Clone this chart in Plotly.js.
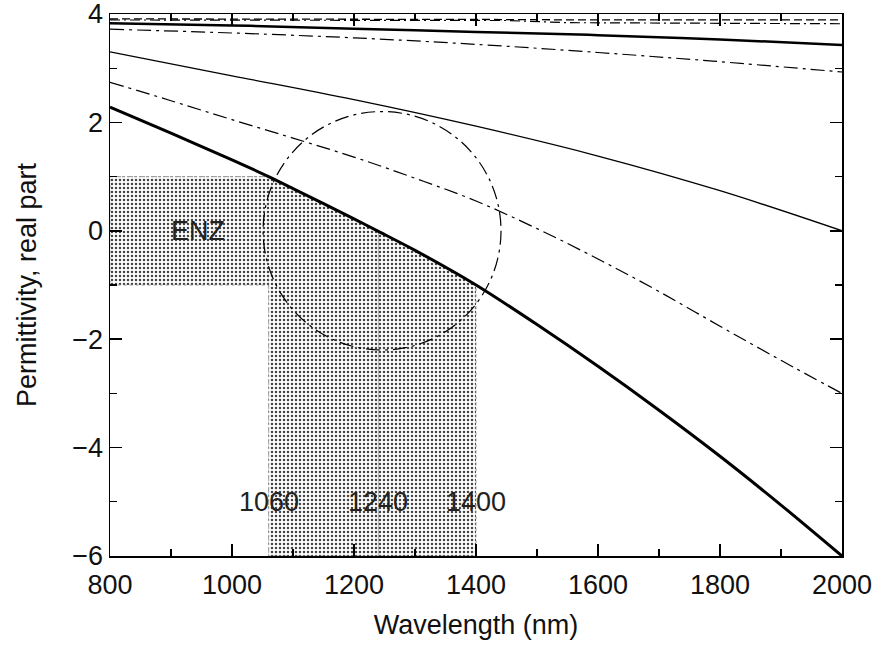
<!DOCTYPE html>
<html>
<head>
<meta charset="utf-8">
<script src="https://cdn.plot.ly/plotly-3.0.1.min.js"></script>
<style>
html,body{margin:0;padding:0;background:#fff;}
#chart{width:883px;height:651px;}
</style>
</head>
<body>
<div id="chart"></div>
<script>
// ---- data ----
const wavelengths = [800, 1000, 1200, 1400, 1600, 1800, 2000];
const seriesA = [3.91, 3.91, 3.90, 3.90, 3.89, 3.89, 3.89];   // dashed, top
const seriesBx = [800, 1200, 1450, 1550, 1700, 2000];
const seriesB = [3.89, 3.89, 3.88, 3.84, 3.83, 3.82];          // dash-dot, top
const seriesC = [3.83, 3.79, 3.73, 3.67, 3.61, 3.53, 3.43];   // thick solid, top
const seriesD = [3.72, 3.65, 3.56, 3.44, 3.29, 3.12, 2.93];   // dash-dot
const seriesE = [3.30, 2.86, 2.42, 1.93, 1.38, 0.74, 0.00];   // thin solid
const seriesFx = [800, 900, 1000, 1100, 1200, 1300, 1400, 1500, 1600, 1700, 1800, 1900, 2000];
const seriesF = [2.74, 2.40, 2.05, 1.71, 1.36, 0.97, 0.55, 0.04, -0.52, -1.12, -1.76, -2.39, -3.00]; // dash-dot
const mainX = [800, 900, 1000, 1060, 1100, 1200, 1240, 1300, 1400, 1500, 1600, 1700, 1800, 1900, 2000];
const mainY = [2.28, 1.80, 1.31, 1.00, 0.78, 0.22, -0.01, -0.36, -1.00, -1.73, -2.50, -3.31, -4.16, -5.06, -6.00]; // thick

const enzTop = 1, enzBottom = -1;
const bandLeft = 1060, bandCenter = 1240, bandRight = 1400;
const yMin = -6, yMax = 4, xMin = 800, xMax = 2000;
const circle = {x0: 1051, x1: 1441, y0: -2.2, y1: 2.2};
const markerLabels = ['1060', '1240', '1400'];
const markerX = [bandLeft, bandCenter, bandRight];
const markerLabelY = -5;
const enzLabel = {text: 'ENZ', x: 945, y: 0};

// ---- shaded region built from the main curve ----
const shadeX = [xMin], shadeY = [enzTop];
mainX.forEach((x, i) => { if (x >= bandLeft && x <= bandRight) { shadeX.push(x); shadeY.push(mainY[i]); } });
shadeX.push(bandRight, bandLeft, bandLeft, xMin, xMin);
shadeY.push(yMin, yMin, enzBottom, enzBottom, enzTop);
const centerIdx = mainX.indexOf(bandCenter);

const FONT = 'Liberation Sans, Arial, Helvetica, sans-serif';
const traces = [
  {x: shadeX, y: shadeY, mode: 'lines', fill: 'toself', fillcolor: 'rgba(0,0,0,0)',
   fillpattern: {shape: '.', size: 4, solidity: 0.32, fgcolor: '#444', bgcolor: '#fff'},
   line: {color: '#999', width: 1, dash: 'dot'}, hoverinfo: 'skip'},
  {x: [bandCenter, bandCenter], y: [yMin, mainY[centerIdx]], mode: 'lines',
   line: {color: '#aaa', width: 1}},
  {x: wavelengths, y: seriesA, mode: 'lines', line: {color: '#000', width: 1.3, dash: '8px,4px'}},
  {x: seriesBx, y: seriesB, mode: 'lines', line: {color: '#000', width: 1.2, dash: '10px,4px,2px,4px'}},
  {x: wavelengths, y: seriesC, mode: 'lines', line: {color: '#000', width: 2.5, shape: 'spline'}},
  {x: wavelengths, y: seriesD, mode: 'lines', line: {color: '#000', width: 1.2, dash: '14px,5px,3px,5px', shape: 'spline'}},
  {x: wavelengths, y: seriesE, mode: 'lines', line: {color: '#000', width: 1.3, shape: 'spline'}},
  {x: seriesFx, y: seriesF, mode: 'lines', line: {color: '#000', width: 1.2, dash: '14px,5px,3px,5px', shape: 'spline'}},
  {x: mainX, y: mainY, mode: 'lines', line: {color: '#000', width: 3, shape: 'spline', smoothing: 0.8}}
];

const annotations = markerLabels.map((t, i) => ({
  x: markerX[i], y: markerLabelY, text: t, showarrow: false, xref: 'x', yref: 'y',
  font: {family: FONT, size: 27, color: '#222'}
}));
annotations.push({x: enzLabel.x, y: enzLabel.y, text: enzLabel.text, showarrow: false,
  font: {family: FONT, size: 27, color: '#222'}});

const axisCommon = {
  showgrid: false, zeroline: false, showline: true, linecolor: '#000', linewidth: 1.5,
  mirror: 'ticks', ticks: 'inside', ticklen: 12, tickwidth: 1.5, tickcolor: '#000',
  tickfont: {family: FONT, size: 27, color: '#111'}, automargin: false,
  ticklabeloverflow: 'allow'
};

const layout = {
  width: 883, height: 651, showlegend: false,
  paper_bgcolor: '#fff', plot_bgcolor: '#fff',
  margin: {l: 110, r: 41, t: 14, b: 95},
  xaxis: Object.assign({}, axisCommon, {
    range: [xMin - 0.001, xMax + 0.001], dtick: 200, tick0: 800, ticklabelstandoff: 4,
    minor: {ticks: 'inside', dtick: 100, ticklen: 7, tickwidth: 1.2, tickcolor: '#000'},
    title: {text: 'Wavelength (nm)', font: {family: FONT, size: 27, color: '#111'}, standoff: 16}
  }),
  yaxis: Object.assign({}, axisCommon, {
    range: [yMin - 0.0001, yMax + 0.0001], dtick: 2, tick0: 0,
    minor: {ticks: 'inside', dtick: 1, ticklen: 7, tickwidth: 1.2, tickcolor: '#000'},
    title: {text: 'Permittivity, real part', font: {family: FONT, size: 27, color: '#111'}, standoff: 28}
  }),
  shapes: [{type: 'circle', xref: 'x', yref: 'y', x0: circle.x0, x1: circle.x1, y0: circle.y0, y1: circle.y1,
    line: {color: '#000', width: 1.2, dash: '14px,5px,3px,5px'}}],
  annotations: annotations
};

Plotly.newPlot('chart', traces, layout, {displayModeBar: false, staticPlot: true});
</script>
</body>
</html>
